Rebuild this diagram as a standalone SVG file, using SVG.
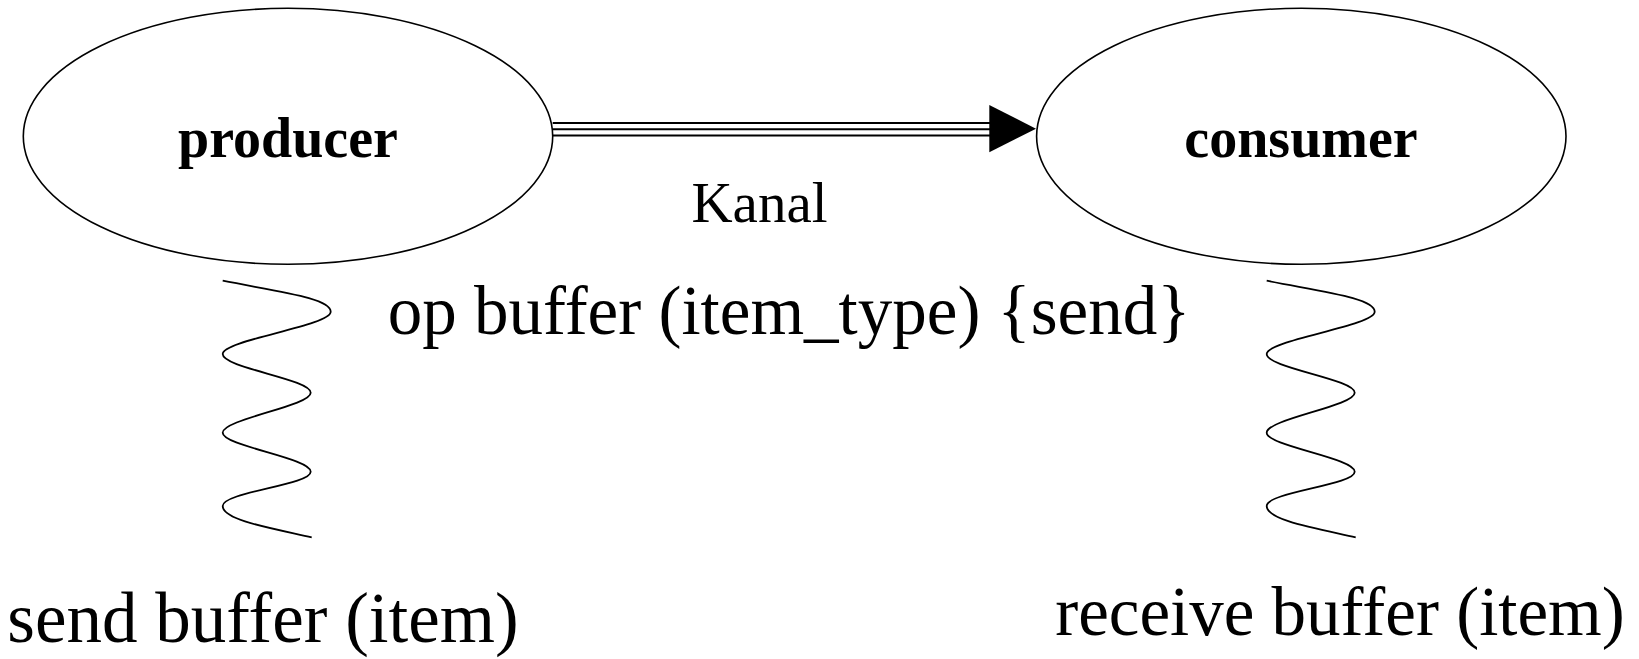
<svg xmlns="http://www.w3.org/2000/svg" xmlns:xlink="http://www.w3.org/1999/xlink" width="1639" height="659" viewBox="0 0 1639 659">
<style>
.node{fill:#fff;stroke:#000;stroke-width:1.6}
.lbl{font-family:"Liberation Serif","Times New Roman",serif;fill:#000;text-anchor:middle}
.b{font-weight:bold;font-size:56px}
.rail{stroke:#000;stroke-width:2;fill:none}
.wave{stroke:#000;stroke-width:1.8;fill:none}
.big{font-size:69px}
</style>
<defs>
<path id="squig" d="M222.7,280.7 C280,292 330.7,298 330.7,311.7 C330.7,326 222.7,340 222.7,354 C222.7,368 310.7,379 310.7,392.7 C310.7,406 222.7,419 222.7,432.7 C222.7,446 310.7,458 310.7,471.7 C310.7,485 222.7,492 222.7,506 C222.7,520 270,528 311.7,537.3"/>
</defs>
<rect width="1639" height="659" fill="#fff"/>
<g id="producer">
<ellipse class="node" cx="288" cy="136.3" rx="264.7" ry="128"/>
<text class="lbl b" x="288" y="157">producer</text>
</g>
<g id="consumer">
<ellipse class="node" cx="1301.3" cy="136.3" rx="264.7" ry="128"/>
<text class="lbl b" x="1301" y="157">consumer</text>
</g>
<g id="connectors">
<line class="rail" x1="552.7" y1="123" x2="990" y2="123"/>
<line class="rail" x1="552.7" y1="129.2" x2="990" y2="129.2"/>
<line class="rail" x1="553" y1="135.4" x2="990" y2="135.4"/>
<polygon points="989.3,105 1036,128.7 989.3,152.3" fill="#000"/>
<text class="lbl" x="759.5" y="222" font-size="57">Kanal</text>
</g>
<g id="annotations">
<text class="lbl big" x="789" y="334">op buffer (item_type) {send}</text>
<use xlink:href="#squig" class="wave"/>
<use xlink:href="#squig" class="wave" transform="translate(1044,0)"/>
<text class="lbl big" x="263" y="642" style="font-size:71px">send buffer (item)</text>
<text class="lbl big" x="1340" y="635">receive buffer (item)</text>
</g>
</svg>
